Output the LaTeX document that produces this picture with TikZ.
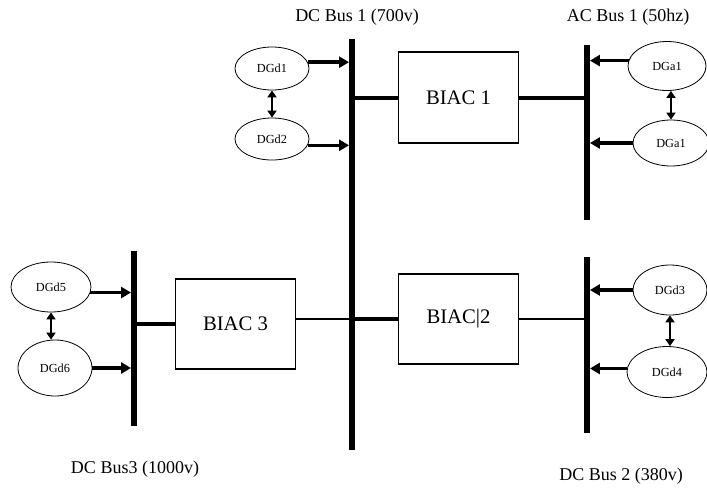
\documentclass[tikz,border=0pt]{standalone}
\usepackage{fontspec}
\setmainfont{Liberation Serif}
\usetikzlibrary{arrows.meta, positioning, shapes}

\begin{document}
\begin{tikzpicture}[x=1pt, y=-1pt,
    bus/.style={fill=black, inner sep=0pt, minimum width=5.5pt},
    conv/.style={draw, line width=1.1pt, inner sep=0pt, minimum width=120pt, minimum height=90pt, font=\fontsize{20.7}{24}\selectfont},
    gen/.style={draw, ellipse, line width=0.8pt, inner sep=0pt, font=\fontsize{12.3}{14}\selectfont},
    buslabel/.style={font=\fontsize{18}{21}\selectfont},
    feed/.style={line width=3.5pt, -{Triangle[length=10pt, width=11pt]}},
    link/.style={line width=2.2pt, {Triangle[length=7pt, width=9pt]}-{Triangle[length=7pt, width=9pt]}},
    tie/.style={line width=4pt},
    tiethin/.style={line width=2.8pt}]
    \useasboundingbox (0,0) rectangle (707,493);

    % Buses
    \node[bus, minimum height=411pt] (dcbus1) at (352,244.5) {};
    \node[bus, minimum height=175pt] (acbus1) at (587,132.5) {};
    \node[bus, minimum height=175pt] (dcbus3) at (134,338.5) {};
    \node[bus, minimum height=176pt] (dcbus2) at (587,345) {};
    \node[buslabel] (ldcbus1) at (357,17) {DC Bus 1 (700v)};
    \node[buslabel] (lacbus1) at (628,17) {AC Bus 1 (50hz)};
    \node[buslabel] (ldcbus3) at (135,469) {DC Bus3 (1000v)};
    \node[buslabel] (ldcbus2) at (621,476) {DC Bus 2 (380v)};

    % Converters
    \node[conv, minimum height=91pt] (biac1) at (458.5,97.5) {BIAC 1};
    \node[conv] (biac2) at (458.5,319) {BIAC|2};
    \node[conv] (biac3) at (235.5,324) {BIAC 3};

    % Converter ties
    \draw[tie] (biac1.west) -- (biac1.west -| dcbus1);
    \draw[tie] (biac1.east) -- (biac1.east -| acbus1);
    \draw[tie] (biac3.west) -- (biac3.west -| dcbus3);
    \draw[tiethin] (biac3.east |- biac2.west) -- (biac2.west -| dcbus1);
    \draw[tie] (biac2.west) -- (biac2.west -| dcbus1);
    \draw[tiethin] (biac2.east) -- (biac2.east -| dcbus2);

    % Generators on DC bus 1
    \node[gen, minimum width=74pt, minimum height=43pt] (dgd1) at (272,68.5) {DGd1};
    \node[gen, minimum width=74pt, minimum height=42pt] (dgd2) at (272,139) {DGd2};
    \draw[feed] (dgd1.10) -- (dgd1.10 -| dcbus1.west);
    \draw[feed] (dgd2.-10) -- (dgd2.-10 -| dcbus1.west);
    \draw[link] (dgd1.south) -- (dgd2.north);

    % Generators on AC bus 1
    \node[gen, minimum width=78pt, minimum height=49pt] (dga1) at (667,66) {DGa1};
    \node[gen, minimum width=76pt, minimum height=46pt] (dga2) at (671,143) {DGa1};
    \draw[feed] (dga1.172) -- (dga1.172 -| acbus1.east);
    \draw[feed] (dga2.west) -- (dga2.west -| acbus1.east);
    \draw[link] (dga2.north |- dga1.south) -- (dga2.north);

    % Generators on DC bus 3
    \node[gen, minimum width=80pt, minimum height=50pt] (dgd5) at (51,287) {DGd5};
    \node[gen, minimum width=74pt, minimum height=56pt] (dgd6) at (55,368) {DGd6};
    \draw[feed] (dgd5.-8) -- (dgd5.-8 -| dcbus3.west);
    \draw[feed] (dgd6.east) -- (dgd6.east -| dcbus3.west);
    \draw[link] (dgd5.south) -- (dgd5.south |- dgd6.north);

    % Generators on DC bus 2
    \node[gen, minimum width=74pt, minimum height=50pt] (dgd3) at (670,290) {DGd3};
    \node[gen, minimum width=80pt, minimum height=51pt] (dgd4) at (667,372) {DGd4};
    \draw[feed] (dgd3.west) -- (dgd3.west -| dcbus2.east);
    \draw[feed] (dgd4.175) -- (dgd4.175 -| dcbus2.east);
    \draw[link] (dgd3.south) -- (dgd3.south |- dgd4.north);
\end{tikzpicture}
\end{document}
